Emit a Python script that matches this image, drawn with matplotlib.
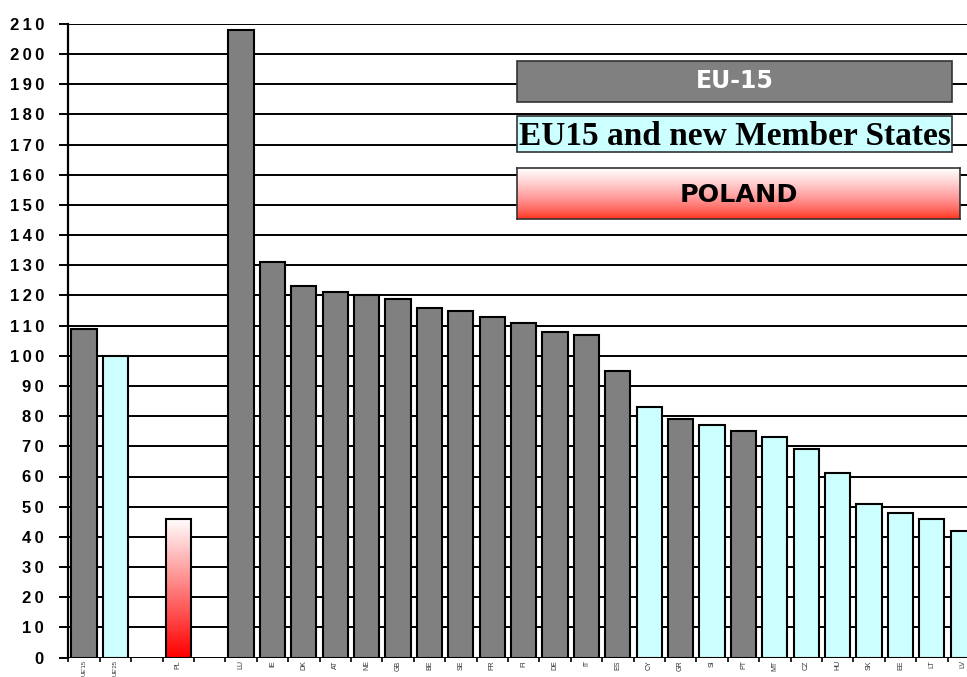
import matplotlib.pyplot as plt
import numpy as np
from matplotlib.colors import LinearSegmentedColormap
from matplotlib.patches import Rectangle

# Data (blank slots keep the gaps around PL)
countries = ["UE'15", "UE'25", "", "PL", "", "LU", "IE", "DK", "AT", "NE", "GB", "BE",
             "SE", "FR", "FI", "DE", "IT", "ES", "CY", "GR", "SI", "PT", "MT", "CZ",
             "HU", "SK", "EE", "LT", "LV"]
values = [109, 100, None, 46, None, 208, 131, 123, 121, 120, 119, 116, 115, 113, 111,
          108, 107, 95, 83, 79, 77, 75, 73, 69, 61, 51, 48, 46, 42]
groups = ['eu15', 'new', None, 'pl', None, 'eu15', 'eu15', 'eu15', 'eu15', 'eu15', 'eu15',
          'eu15', 'eu15', 'eu15', 'eu15', 'eu15', 'eu15', 'eu15', 'new', 'eu15', 'new',
          'eu15', 'new', 'new', 'new', 'new', 'new', 'new', 'new']
yticks = np.arange(0, 211, 10)

gray = '#808080'
cyan = '#CCFFFF'
colors = {'eu15': gray, 'new': cyan, 'pl': 'none'}
red_white = LinearSegmentedColormap.from_list('rw', ['#FF0000', '#FFFFFF'])

W, H = 967, 677
fig = plt.figure(figsize=(W / 100, H / 100), dpi=100)
ax = fig.add_axes([68.3 / W, (H - 657.5) / H, 910.6 / W, 633.5 / H])

x = np.arange(len(countries))
for xi, v, g in zip(x, values, groups):
    if v is None:
        continue
    bar = ax.bar(xi, v, width=0.8, color=colors[g], edgecolor='black', linewidth=1.5, zorder=3)[0]
    if g == 'pl':
        grad = np.linspace(0, 1, 256).reshape(-1, 1)
        im = ax.imshow(grad, cmap=red_white, origin='lower', aspect='auto',
                       extent=(xi - 0.4, xi + 0.4, 0, v), zorder=2.5)
        im.set_clip_path(bar)

ax.set_xlim(-0.5, len(countries) - 0.5)
ax.set_ylim(0, 210)
ax.set_yticks(yticks)
# letter-spaced tick labels like the original
ax.set_yticklabels(['\u2009'.join(str(t)) for t in yticks], fontsize=12, fontweight='bold',
                   family='Liberation Sans')
ax.yaxis.grid(True, color='black', linewidth=1.4, zorder=0)
ax.set_axisbelow(True)
ax.tick_params(axis='y', length=6.5, width=1.4, pad=11)

# x: small ticks at slot boundaries, labels centred in slots
ax.set_xticks(np.arange(-0.5, len(countries), 1))
ax.set_xticklabels([])
ax.tick_params(axis='x', which='major', length=3, width=1.2, direction='out')
ax.set_xticks(x, minor=True)
ax.set_xticklabels(countries, minor=True, rotation=90, fontsize=5, color='#333333',
                   va='top', family='Liberation Sans')
for lab in ax.get_xticklabels(minor=True):
    if len(lab.get_text()) > 2:
        lab.set_fontsize(4.2)
ax.tick_params(axis='x', which='minor', length=0, pad=2)

for s in ['top', 'right', 'bottom']:
    ax.spines[s].set_visible(False)
ax.spines['left'].set_linewidth(1.6)


def fig_box(x0, y0, x1, y1):
    return [x0 / W, 1 - y1 / H, (x1 - x0) / W, (y1 - y0) / H]


# Legend boxes
b1 = fig_box(517, 61, 952, 102)
fig.patches.append(Rectangle((b1[0], b1[1]), b1[2], b1[3], transform=fig.transFigure,
                             facecolor=gray, edgecolor='#333333', linewidth=1.2, zorder=5))
fig.text(b1[0] + b1[2] / 2, b1[1] + b1[3] / 2, 'EU-15', color='white', fontsize=17,
         fontweight='bold', family='DejaVu Sans', ha='center', va='center', zorder=6)

b2 = fig_box(517, 116, 952, 152)
fig.patches.append(Rectangle((b2[0], b2[1]), b2[2], b2[3], transform=fig.transFigure,
                             facecolor=cyan, edgecolor='#333333', linewidth=1.2, zorder=5))
fig.text(b2[0] + b2[2] / 2, b2[1] + b2[3] / 2 - 0.003, 'EU15 and new Member States',
         color='black', fontsize=24, fontweight='bold', family='Liberation Serif',
         ha='center', va='center', zorder=6)

b3 = fig_box(517, 168, 960, 219)
axp = fig.add_axes(b3)
axp.imshow(np.linspace(0, 1, 256).reshape(-1, 1) ** 0.7,
           cmap=LinearSegmentedColormap.from_list('rw2', ['#FF2A10', '#FF9090', '#FFFFFF']),
           origin='lower', aspect='auto', extent=(0, 1, 0, 1))
axp.set_xticks([])
axp.set_yticks([])
for s in axp.spines.values():
    s.set_linewidth(1.2)
    s.set_color('#333333')
axp.text(0.5, 0.47, 'POLAND', color='black', fontsize=18.3, fontweight='bold',
         family='DejaVu Sans', ha='center', va='center', transform=axp.transAxes)

plt.savefig('out.png', dpi=100)
